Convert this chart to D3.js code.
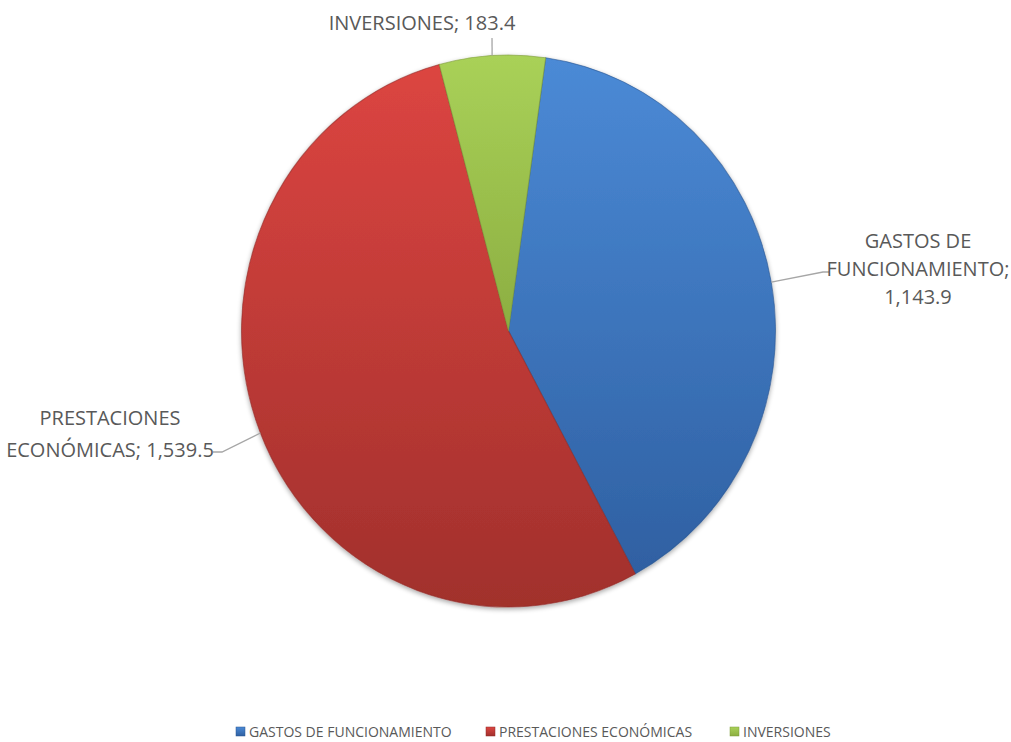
<!DOCTYPE html>
<html><head><meta charset="utf-8">
<script src="https://cdn.jsdelivr.net/npm/d3@7"></script>
<style>
html,body{margin:0;padding:0;background:#fff;}
text{font-family:"Liberation Sans Narrow","Open Sans",sans-serif;fill:#595959;}
</style></head>
<body><svg id="c" width="1011" height="742"></svg>
<script>
const categories = ["GASTOS DE FUNCIONAMIENTO", "PRESTACIONES ECONÓMICAS", "INVERSIONES"];
const values = [1143.9, 1539.5, 183.4];
const labelBreaks = [["GASTOS DE", "FUNCIONAMIENTO;", "{v}"], ["PRESTACIONES", "ECONÓMICAS; {v}"], ["INVERSIONES; {v}"]];

const colorTop = ["#4b8ad6", "#dc4541", "#a9d158"];
const colorBot = ["#2f60a2", "#a1302c", "#8cae41"];
const colorEdge = ["#2a558f", "#8f2a27", "#7b9a38"];

const svg = d3.select("#c");
const cx = 508.5, cy = 331, r = 267, sy = 276 / 267;
const fmt = d3.format(",.1f");
const defs = svg.append("defs");
categories.forEach((c, i) => {
  const g = defs.append("linearGradient").attr("id", "g" + i).attr("x1", 0).attr("y1", 0).attr("x2", 0).attr("y2", 1);
  g.append("stop").attr("offset", "0%").attr("stop-color", colorTop[i]);
  g.append("stop").attr("offset", "100%").attr("stop-color", colorBot[i]);
});
const f = defs.append("filter").attr("id", "sh").attr("x", "-10%").attr("y", "-10%").attr("width", "120%").attr("height", "120%");
f.append("feGaussianBlur").attr("in", "SourceAlpha").attr("stdDeviation", 2.5).attr("result", "b");
f.append("feOffset").attr("in", "b").attr("dy", 2).attr("result", "o");
f.append("feComponentTransfer").attr("in", "o").attr("result", "o2").append("feFuncA").attr("type", "linear").attr("slope", 0.35);
const fm = f.append("feMerge"); fm.append("feMergeNode").attr("in", "o2"); fm.append("feMergeNode").attr("in", "SourceGraphic");

const start = 8 * Math.PI / 180;
const pie = d3.pie().sort(null).startAngle(start).endAngle(start + 2 * Math.PI)(values);
const arc = d3.arc().innerRadius(0).outerRadius(r);

const g = svg.append("g").attr("transform", `translate(${cx},${cy}) scale(1,${sy})`).attr("filter", "url(#sh)");
g.selectAll("path").data(pie).join("path")
  .attr("d", arc).attr("fill", (d, i) => `url(#g${i})`)
  .attr("stroke", (d, i) => colorEdge[i]).attr("stroke-width", 1).attr("stroke-opacity", 0.6);

function rimPoint(d) {
  const a = (d.startAngle + d.endAngle) / 2;
  return [cx + r * Math.sin(a), cy - r * sy * Math.cos(a)];
}
// label layout: [elbow, end, text anchor x, first baseline y]
const layout = [
  {pts: [[823, 272], [829, 272]], x: 918, y: 248, lh: 28},
  {pts: [[222, 452], [213, 452]], x: 110, y: 425, lh: 32},
  {pts: [[492, 38]], x: 422, y: 30, lh: 28}
];
pie.forEach((d, i) => {
  const p0 = rimPoint(d);
  const L = layout[i];
  svg.append("polyline").attr("points", [p0, ...L.pts].map(p => p.join(",")).join(" "))
    .attr("fill", "none").attr("stroke", "#a6a6a6").attr("stroke-width", 1.3);
  const t = svg.append("text").attr("text-anchor", "middle").attr("font-size", 20);
  labelBreaks[i].forEach((ln, k) => {
    t.append("tspan").attr("x", L.x).attr("y", L.y + k * L.lh).text(ln.replace("{v}", fmt(values[i])));
  });
});

// legend
const legX = [236, 486, 730];
const leg = svg.append("g");
categories.forEach((c, i) => {
  leg.append("rect").attr("x", legX[i]).attr("y", 727).attr("width", 9).attr("height", 9)
    .attr("fill", `url(#g${i})`).attr("stroke", colorEdge[i]).attr("stroke-width", 0.5);
  leg.append("text").attr("x", legX[i] + 13).attr("y", 737).attr("font-size", 14).text(c);
});
</script></body></html>
